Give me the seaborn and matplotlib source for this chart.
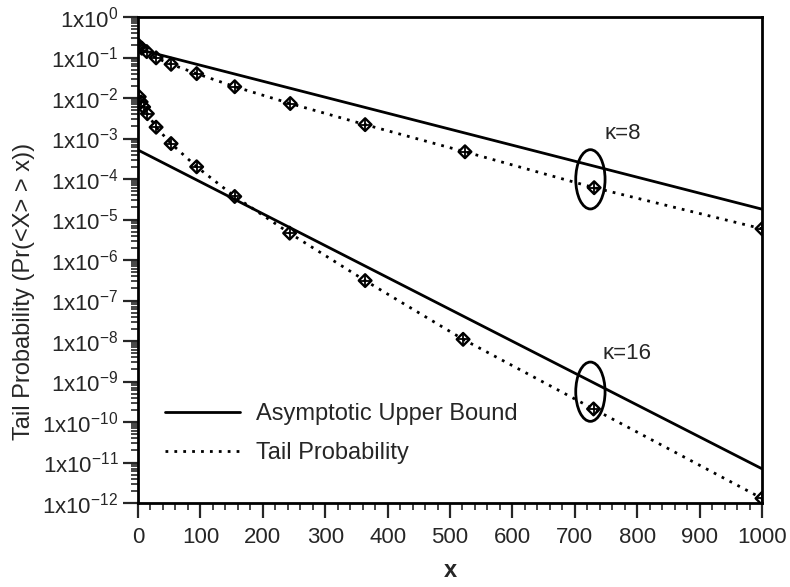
import math
import seaborn as sns
import matplotlib
matplotlib.use("Agg")
import matplotlib.pyplot as plt
from matplotlib.patches import Ellipse
from matplotlib.ticker import FuncFormatter, LogLocator, MultipleLocator, NullFormatter

sns.set_style("white")
plt.rcParams['font.family'] = ['Liberation Sans', 'DejaVu Sans']
plt.rcParams['mathtext.fontset'] = 'custom'
plt.rcParams['mathtext.rm'] = 'Liberation Sans'

# tail probability points, kappa = 8 and kappa = 16
k8_x = [1, 6, 14, 29, 53, 94, 155, 244, 364, 524, 731, 1000]
k8_tail = [0.20, 0.17, 0.14, 0.098, 0.068, 0.040, 0.019, 0.0073, 0.0022, 4.7e-4, 6.1e-5, 5.9e-6]
k16_x = [2, 5, 9, 15, 29, 53, 94, 155, 243, 364, 521, 730, 1000]
k16_tail = [0.0107, 0.008, 0.006, 0.0041, 0.0019, 7.5e-4, 2.0e-4, 3.7e-5, 4.6e-6, 3.1e-7, 1.1e-8, 2.1e-10, 1.3e-12]

# asymptotic upper bounds (straight lines on log scale)
bound_x = [0, 1000]
k8_bound = [0.16, 1.8e-5]
k16_bound = [5.2e-4, 7e-12]

fig = plt.figure(figsize=(7.9, 5.87), dpi=100)
ax = fig.add_subplot(111)
fig.subplots_adjust(left=138/790, right=762/790, bottom=1-503/587, top=1-17/587)

dots = (0, (1, 2.2))
sns.lineplot(x=bound_x, y=k8_bound, color='black', lw=2, ax=ax, label='Asymptotic Upper Bound')
sns.lineplot(x=bound_x, y=k16_bound, color='black', lw=2, ax=ax)
sns.lineplot(x=k8_x, y=k8_tail, color='black', lw=2, linestyle=dots, ax=ax, label='Tail Probability')
sns.lineplot(x=k16_x, y=k16_tail, color='black', lw=2, linestyle=dots, ax=ax)

for xs, ys in [(k8_x, k8_tail), (k16_x, k16_tail)]:
    sns.scatterplot(x=xs, y=ys, marker='D', s=42, facecolor='none', edgecolor='black',
                    linewidth=1.7, ax=ax, zorder=5)
    sns.scatterplot(x=xs, y=ys, marker='+', s=45, color='black', linewidth=1.3, ax=ax, zorder=6)

ax.set_yscale('log')
ax.set_xlim(0, 1000)
ax.set_ylim(1e-12, 1)

ax.xaxis.set_major_locator(MultipleLocator(100))
ax.xaxis.set_minor_locator(MultipleLocator(20))
ax.yaxis.set_major_locator(LogLocator(base=10, numticks=20))
ax.yaxis.set_minor_locator(LogLocator(base=10, subs=range(2, 10), numticks=200))
ax.yaxis.set_minor_formatter(NullFormatter())
ax.yaxis.set_major_formatter(FuncFormatter(
    lambda v, p: r'$\mathregular{1x10^{%d}}$' % round(math.log10(v))))

ax.tick_params(axis='both', which='major', direction='out', length=11, width=1.6,
               labelsize=16, pad=3, bottom=True, left=True, top=False, right=False)
ax.tick_params(axis='both', which='minor', direction='out', length=5, width=1.2,
               bottom=True, left=True, top=False, right=False)
ax.tick_params(axis='x', which='major', pad=6)

for sp in ax.spines.values():
    sp.set_linewidth(2)
    sp.set_color('black')

ax.set_xlabel('x', fontsize=17, fontweight='bold')
ax.set_ylabel('Tail Probability (Pr(<X> > x))', fontsize=17)
ax.yaxis.set_label_coords(-0.165, 0.435)
ax.xaxis.set_label_coords(0.5, -0.115)

# ellipses marking each kappa group
for cy in [0.666, 0.229]:
    ax.add_patch(Ellipse((0.725, cy), 0.047, 0.122, transform=ax.transAxes,
                         fill=False, edgecolor='black', lw=2, zorder=7))
ytr = ax.get_yaxis_transform()
ax.text(0.748, 10**-2.88, 'κ=8', fontsize=16, va='center', ha='left', transform=ytr)
ax.text(0.745, 10**-8.32, 'κ=16', fontsize=16, va='center', ha='left', transform=ytr)

ax.legend(loc='center left', bbox_to_anchor=(0.043, 0.143), frameon=False,
          fontsize=17, handlelength=3.2, handletextpad=0.65, labelspacing=0.72,
          borderpad=0, borderaxespad=0)

fig.savefig('out.png', dpi=100)
